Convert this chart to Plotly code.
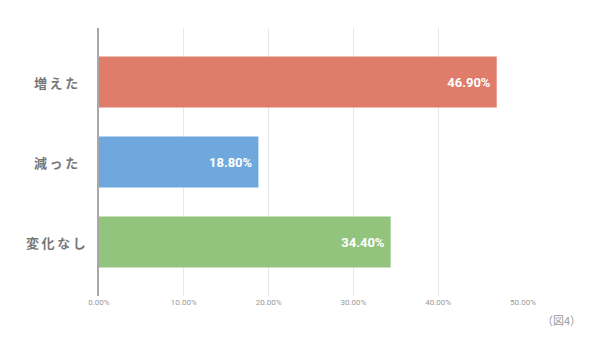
import plotly.graph_objects as go

# Survey result: share of responses per answer
categories = ["増えた", "減った", "変化なし"]
shares = [46.90, 18.80, 34.40]
bar_colors = ["#e07c6a", "#6fa8dc", "#93c47d"]
tick_values = [0, 10, 20, 30, 40, 50]
tick_labels = ["0.00%", "10.00%", "20.00%", "30.00%", "40.00%", "50.00%"]

positions = list(range(len(categories)))

# plot area in pixels (used to place text outside the axes)
PLOT_LEFT, PLOT_RIGHT, PLOT_TOP, PLOT_BOTTOM = 99, 523, 28, 296
plot_w = PLOT_RIGHT - PLOT_LEFT
plot_h = PLOT_BOTTOM - PLOT_TOP

fig = go.Figure(
    go.Bar(
        x=shares,
        y=positions,
        orientation="h",
        width=0.64,
        marker=dict(color=bar_colors, line=dict(width=0)),
        text=[f"{v:.2f}%\u00a0" for v in shares],
        textposition="inside",
        insidetextanchor="end",
        textfont=dict(family="Roboto", size=13, color="white", weight="bold"),
        hoverinfo="skip",
    )
)

# Category labels, centred in the left margin with loose letter spacing
for pos, name in zip(positions, categories):
    fig.add_annotation(
        x=(56 - PLOT_LEFT) / plot_w, xref="paper", y=pos, yref="y",
        text="\u2009".join(name), showarrow=False, xanchor="center", yanchor="middle",
        font=dict(family="Noto Sans CJK JP", size=13, color="#777777", weight="bold"),
    )

fig.add_annotation(
    x=(561 - PLOT_LEFT) / plot_w, xref="paper",
    y=-(320 - PLOT_BOTTOM) / plot_h, yref="paper",
    text="（図4）", showarrow=False, xanchor="center", yanchor="middle",
    font=dict(family="Noto Sans CJK JP", size=11, color="#999999"),
)

fig.update_layout(
    width=600,
    height=350,
    margin=dict(l=PLOT_LEFT, r=600 - PLOT_RIGHT, t=PLOT_TOP, b=350 - PLOT_BOTTOM),
    paper_bgcolor="white",
    plot_bgcolor="white",
    showlegend=False,
    xaxis=dict(
        range=[0, 50],
        tickvals=tick_values,
        ticktext=tick_labels,
        showgrid=True,
        gridcolor="#e6e6e6",
        gridwidth=1,
        zeroline=False,
        showline=False,
        ticks="",
        tickfont=dict(family="Roboto", size=8, color="#9a9a9a"),
    ),
    yaxis=dict(
        range=[2.675, -0.675],
        showticklabels=False,
        showgrid=False,
        zeroline=False,
        showline=True,
        linecolor="#a8a8a8",
        linewidth=1.5,
        ticks="",
    ),
)

fig.write_html("out.html")
